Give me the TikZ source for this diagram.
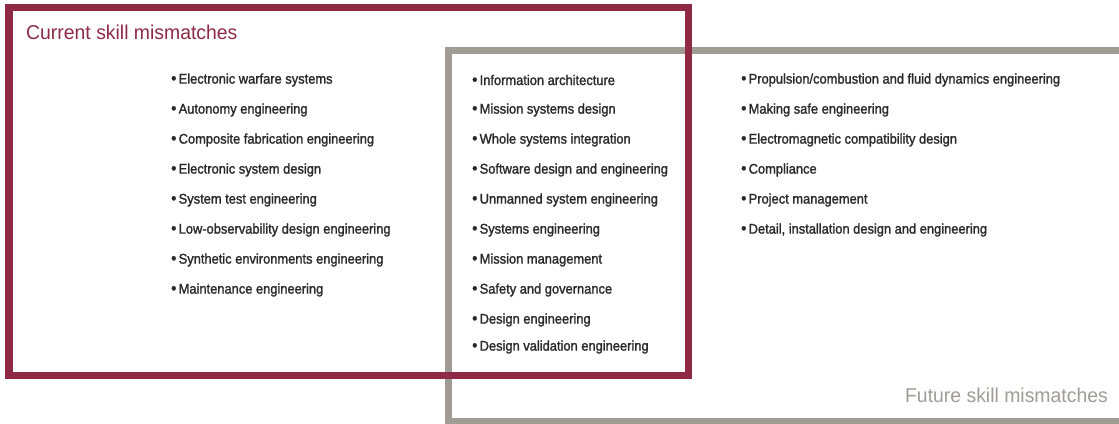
\documentclass[tikz,border=0pt]{standalone}
\usepackage{fontspec}
\setmainfont{Liberation Sans}
\newfontfamily\itemfont[FakeStretch=0.92,FakeBold=1.6]{Liberation Sans}
\newfontfamily\titlefont[FakeStretch=0.97]{Liberation Sans}
\definecolor{boxred}{HTML}{8E2A45}
\definecolor{boxgray}{HTML}{A09B94}
\definecolor{itemtext}{HTML}{2A2A2A}
\tikzset{
  item/.style={anchor=west, inner sep=0pt, text=itemtext, font=\itemfont\fontsize{14}{16}\selectfont},
  title/.style={anchor=west, inner sep=0pt, font=\titlefont\fontsize{20}{22}\selectfont},
}
\newcommand{\bul}{{\fontsize{16}{16}\selectfont\textbullet}\,}
\begin{document}
\begin{tikzpicture}[x=1pt,y=-1pt]
\useasboundingbox (0,0) rectangle (1119,423);
\clip (0,0) rectangle (1119,423);
% future (gray) box
\draw[boxgray, line width=7pt] (1130,50.5) -- (448,50.5) -- (448,421.5) -- (1130,421.5);
% current (red) box
\draw[boxred, line width=7.5pt] (9,7.5) rectangle (688.5,375.5);
% titles
\node[title, text=boxred] (curtitle) at (26,32) {Current skill mismatches};
\node[title, text=boxgray, anchor=east] (futtitle) at (1108,395) {Future skill mismatches};
% column 1
\node[item] (a1) at (171,80) {\bul Electronic warfare systems};
\node[item] (a2) at (171,110) {\bul Autonomy engineering};
\node[item] (a3) at (171,140) {\bul Composite fabrication engineering};
\node[item] (a4) at (171,170) {\bul Electronic system design};
\node[item] (a5) at (171,200) {\bul System test engineering};
\node[item] (a6) at (171,230) {\bul Low-observability design engineering};
\node[item] (a7) at (171,260) {\bul Synthetic environments engineering};
\node[item] (a8) at (171,290) {\bul Maintenance engineering};
% column 2
\node[item] (b1) at (472,80) {\bul Information architecture};
\node[item] (b2) at (472,110) {\bul Mission systems design};
\node[item] (b3) at (472,140) {\bul Whole systems integration};
\node[item] (b4) at (472,170) {\bul Software design and engineering};
\node[item] (b5) at (472,200) {\bul Unmanned system engineering};
\node[item] (b6) at (472,230) {\bul Systems engineering};
\node[item] (b7) at (472,260) {\bul Mission management};
\node[item] (b8) at (472,290) {\bul Safety and governance};
\node[item] (b9) at (472,320) {\bul Design engineering};
\node[item] (b10) at (472,347) {\bul Design validation engineering};
% column 3
\node[item] (c1) at (741,80) {\bul Propulsion/combustion and fluid dynamics engineering};
\node[item] (c2) at (741,110) {\bul Making safe engineering};
\node[item] (c3) at (741,140) {\bul Electromagnetic compatibility design};
\node[item] (c4) at (741,170) {\bul Compliance};
\node[item] (c5) at (741,200) {\bul Project management};
\node[item] (c6) at (741,230) {\bul Detail, installation design and engineering};
\end{tikzpicture}
\end{document}
